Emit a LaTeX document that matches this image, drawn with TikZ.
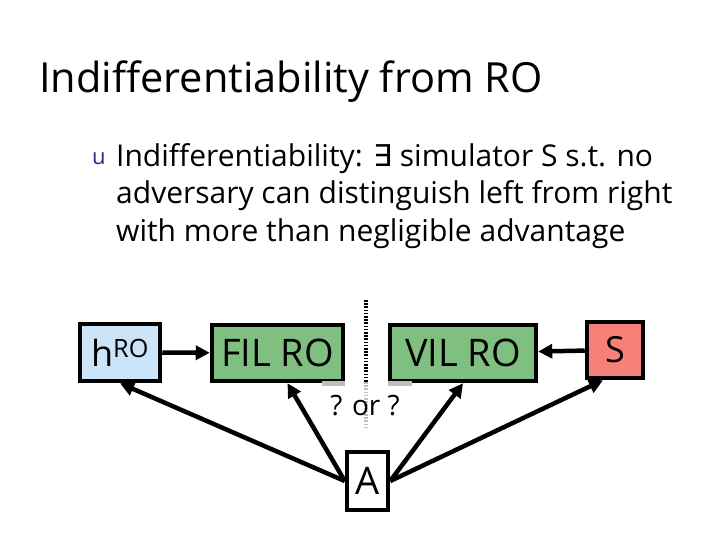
\documentclass[tikz,border=0pt]{standalone}
\usepackage{fontspec}
\setmainfont{Open Sans}
\newfontfamily\symfont{DejaVu Sans}
\usepackage{tikz}
\usetikzlibrary{calc, positioning, arrows.meta}
\usepackage{xcolor}
\definecolor{hroBlue}{RGB}{204, 228, 247}
\definecolor{roGreen}{RGB}{127, 191, 127}
\definecolor{simRed}{RGB}{248, 128, 122}
\definecolor{bulletBlue}{RGB}{40, 40, 140}
\definecolor{splitGray}{RGB}{190, 190, 190}

\tikzset{
  oracle/.style={draw, line width=4.5pt, inner sep=0pt, font=\fontsize{38}{38}\selectfont},
  claimline/.style={anchor=base west, inner sep=0pt, font=\fontsize{30}{30}\selectfont},
  query/.style={-{Triangle[length=14pt, width=14pt]}, line width=4.5pt},
  splitline/.style={line width=3.5pt, dash pattern=on 1.6pt off 1.6pt},
}

\begin{document}
\begin{tikzpicture}[x=1pt, y=-1pt]
  \useasboundingbox (0, 0) rectangle (720, 540);

  % title and bullet
  \node[anchor=base west, inner sep=0pt, font=\fontsize{41.5}{41.5}\selectfont]
    (title) at (39, 93) {Indifferentiability from RO};
  \node[anchor=base west, inner sep=0pt, text=bulletBlue, font=\fontsize{22}{22}\selectfont]
    (bullet) at (92, 165) {u};
  \node[claimline] (claim1) at (116, 167) {Indifferentiability: {\symfont ∃} simulator S s.t. no};
  \node[claimline] (claim2) at (116, 204) {adversary can distinguish left from right};
  \node[claimline] (claim3) at (116, 241) {with more than negligible advantage};

  % the two worlds
  \node[oracle, fill=hroBlue, minimum width=80, minimum height=57, font=\fontsize{36}{36}\selectfont] (hro) at (120, 352.5) {h\textsuperscript{RO}};
  \node[oracle, fill=roGreen, minimum width=131, minimum height=56] (fil) at (277.5, 353) {FIL RO};
  \node[oracle, fill=roGreen, minimum width=146, minimum height=56] (vil) at (463, 353) {VIL RO};
  \node[oracle, fill=simRed, minimum width=56, minimum height=56, font=\fontsize{36}{36}\selectfont] (sim) at (615, 350) {S};
  \node[oracle, fill=white, minimum width=41, minimum height=58] (adv) at (367.5, 481) {A};

  % split between left and right
  \coordinate (splitTop) at (366, 300);
  \coordinate (splitMid) at (366, 382);
  \coordinate (splitBot) at (366, 430);
  \draw[splitline] (splitTop) -- (splitMid);
  \draw[splitline, splitGray] (splitMid) -- (splitBot);
  \draw[line width=4.5pt, splitGray] ([xshift=-23]fil.south east) -- (fil.south east);
  \draw[line width=4.5pt, splitGray] (vil.south west) -- ([xshift=24]vil.south west);
  \node[font=\fontsize{28}{28}\selectfont, inner sep=1pt] (which) at (365, 406) {? or ?};

  % queries
  \draw[query] (hro) -- (fil);
  \draw[query] (sim) -- (vil);
  \draw[query] (adv.west) -- (hro.south);
  \draw[query] (adv.west) -- ([xshift=10]fil.south);
  \draw[query] (adv.east) -- (vil.south);
  \draw[query] (adv.east) -- ([xshift=-12]sim.south);
\end{tikzpicture}
\end{document}
